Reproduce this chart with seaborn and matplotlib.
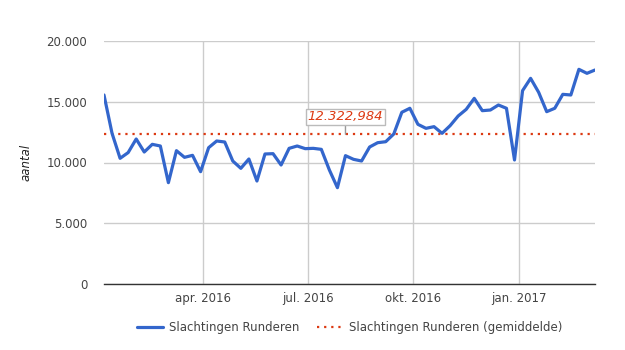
import numpy as np
import pandas as pd
import matplotlib
matplotlib.use("Agg")
import matplotlib.pyplot as plt
import matplotlib.dates as mdates
from matplotlib.ticker import FuncFormatter
import seaborn as sns

# ---- data ----
start_date = "2016-01-06"
values = [15556, 12400, 10344, 10816, 11934, 10864, 11496, 11358, 8340, 10974,
          10425, 10590, 9246, 11220, 11770, 11687, 10123, 9520, 10288, 8477,
          10700, 10727, 9794, 11165, 11358, 11139, 11165, 11083, 9383, 7928,
          10563, 10261, 10123, 11276, 11630, 11712, 12346, 14133, 14462, 13142,
          12812, 12950, 12400, 13032, 13827, 14375, 15280, 14266, 14320, 14732,
          14462, 10206, 15912, 16927, 15775, 14184, 14462, 15610, 15556, 17668,
          17340, 17613]
mean_value = 12322.984
series_name = "Slachtingen Runderen"
mean_name = "Slachtingen Runderen (gemiddelde)"
y_label = "aantal"
y_ticks = [0, 5000, 10000, 15000, 20000]
x_tick_dates = ["2016-04-01", "2016-07-01", "2016-10-01", "2017-01-01"]
x_tick_labels = ["apr. 2016", "jul. 2016", "okt. 2016", "jan. 2017"]
mean_label = "12.322,984"

dates = pd.date_range(start_date, periods=len(values), freq="7D")
df = pd.DataFrame({"datum": dates, "aantal": values})

sns.set_style("white")
plt.rcParams["font.family"] = ["DejaVu Sans"]

BLUE = "#3366cc"
RED = "#dc3912"
GRID = "#cccccc"
TXT = "#444444"
FS = 8.5

fig = plt.figure(figsize=(6.25, 3.5), dpi=100)
ax = fig.add_axes([104 / 625, 1 - 284 / 350, (595 - 104) / 625, (284 - 41) / 350])

sns.lineplot(data=df, x="datum", y="aantal", ax=ax, color=BLUE, linewidth=2.3,
             label=series_name, legend=False, zorder=3)
ax.axhline(mean_value, color=RED, linewidth=1.6, linestyle=(0, (1, 2.2)),
           label=mean_name, zorder=2)

ax.set_xlim(dates[0], dates[-1])
ax.set_ylim(0, 20000)
ax.set_yticks(y_ticks)
ax.yaxis.set_major_formatter(FuncFormatter(lambda v, p: f"{int(v):,}".replace(",", ".")))
tick_pos = [mdates.date2num(pd.Timestamp(d)) for d in x_tick_dates]
ax.set_xticks(tick_pos)
ax.set_xticklabels(x_tick_labels)

ax.grid(True, color=GRID, linewidth=1.0)
ax.set_axisbelow(True)
for s in ["top", "right", "left"]:
    ax.spines[s].set_visible(False)
ax.spines["bottom"].set_color("#333333")
ax.spines["bottom"].set_linewidth(1.0)
ax.spines["bottom"].set_zorder(4)
ax.tick_params(axis="both", length=0, colors=TXT, labelsize=FS)
ax.tick_params(axis="x", pad=6)
ax.tick_params(axis="y", pad=12)
ax.set_xlabel("")
ax.set_ylabel(y_label, style="italic", color="#222222", fontsize=FS)
ax.yaxis.set_label_coords(-0.145, 0.5)

# mean annotation
ann_x = mdates.date2num(pd.Timestamp("2016-08-03"))
ax.annotate(mean_label, xy=(ann_x, mean_value), xytext=(0, 12.5), textcoords="offset points",
            ha="center", va="center", color=RED, fontsize=9.5, style="italic",
            bbox=dict(boxstyle="square,pad=0.12", fc="white", ec="#bbbbbb", lw=1),
            arrowprops=dict(arrowstyle="-", color="#999999", lw=1, shrinkA=0, shrinkB=0),
            zorder=5)

handles, labels = ax.get_legend_handles_labels()
fig.legend(handles, labels, loc="center", bbox_to_anchor=(0.56, 1 - 328 / 350), ncol=2,
           frameon=False, fontsize=FS, labelcolor=TXT, handlelength=2.2,
           columnspacing=1.5, handletextpad=0.5)

fig.savefig("out.png", dpi=100)
